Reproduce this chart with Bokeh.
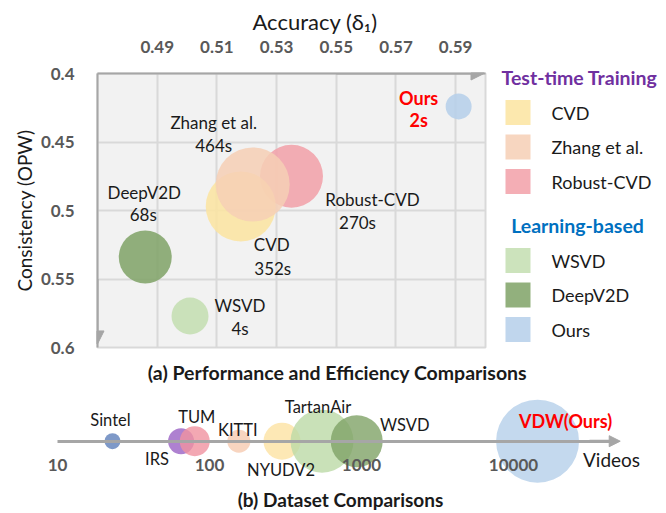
from bokeh.plotting import figure
from bokeh.layouts import column, row
from bokeh.models import (Range1d, FixedTicker, NumeralTickFormatter,
                          Arrow, NormalHead, Label, LogAxis, Title)
from bokeh.core.properties import value
from bokeh.embed import file_html
from bokeh.resources import INLINE

# ---------------- data: (a) performance & efficiency ----------------
methods = ["CVD", "Zhang et al.", "Robust-CVD", "WSVD", "DeepV2D", "Ours"]
groups = ["Test-time Training", "Test-time Training", "Test-time Training",
          "Learning-based", "Learning-based", "Learning-based"]
runtimes = ["352s", "464s", "270s", "4s", "68s", "2s"]
accuracy = [0.518, 0.522, 0.535, 0.501, 0.486, 0.591]
consistency = [0.497, 0.481, 0.475, 0.577, 0.534, 0.424]
bubble_diam = [70, 74, 63, 37, 53, 26]
method_colors = ["#FCE4A0", "#F6CFB5", "#F2A0A8", "#C3DEB0", "#7FA266", "#B5CFEA"]
group_colors = {"Test-time Training": "#7030A0", "Learning-based": "#0070C0"}

acc_ticks = [0.49, 0.51, 0.53, 0.55, 0.57, 0.59]
opw_ticks = [0.4, 0.45, 0.5, 0.55, 0.6]

# ---------------- data: (b) datasets ----------------
datasets = ["Sintel", "IRS", "TUM", "KITTI", "NYUDV2", "TartanAir", "WSVD", "VDW(Ours)"]
videos = [23, 65, 80, 156, 300, 550, 930, 14400]
ds_diam = [16, 26, 30, 23, 37, 63, 52, 83]
ds_colors = ["#5E80BA", "#9A62C4", "#F092A0", "#F6CBB0", "#FCE2A2", "#BCDAA6", "#7FA266", "#B5CFEA"]
video_ticks = [10, 100, 1000, 10000]

FONT = "Lato"
GRAY = "#A6A6A6"
TICK_GRAY = "#595959"
INK = "#1A1A1A"

TOP_H = 357
FR_TOP, FR_BOT = 73, 10

# ---------------- main scatter ----------------
p = figure(width=495, height=TOP_H, x_range=Range1d(0.47, 0.60), y_range=Range1d(0.6, 0.4),
           x_axis_location="above", toolbar_location=None, output_backend="svg",
           min_border_left=97, min_border_right=10, min_border_top=FR_TOP,
           min_border_bottom=FR_BOT)
p.background_fill_color = "#F2F2F2"
p.border_fill_color = "white"
p.outline_line_color = "#D9D9D9"
p.outline_line_width = 2

for ax, ticks, fmt in ((p.xaxis, acc_ticks, "0.00"), (p.yaxis, opw_ticks, "0.[00]")):
    ax.ticker = FixedTicker(ticks=ticks)
    ax.formatter = NumeralTickFormatter(format=fmt)
    ax.major_tick_line_color = None
    ax.minor_tick_line_color = None
    ax.axis_line_color = GRAY
    ax.axis_line_width = 2
    ax.major_label_text_font = FONT
    ax.major_label_text_font_style = "bold"
    ax.major_label_text_font_size = "17px"
    ax.major_label_text_color = TICK_GRAY
    ax.axis_label_text_font = FONT
    ax.axis_label_text_font_style = "normal"
    ax.axis_label_text_font_size = "19px"
    ax.axis_label_text_color = INK

p.xaxis.major_label_standoff = 15
p.yaxis.axis_label = "Consistency (OPW)"
p.yaxis.major_label_standoff = 17
p.yaxis.axis_label_standoff = 2

p.add_layout(Title(text="Accuracy (δ₁)", align="left", offset=155, standoff=5,
                   text_font=FONT, text_font_size="22px", text_font_style="normal",
                   text_color=INK), "above")

p.xgrid.ticker = FixedTicker(ticks=acc_ticks)
p.ygrid.ticker = FixedTicker(ticks=opw_ticks)
p.grid.grid_line_color = "#D9D9D9"
p.grid.grid_line_width = 2

draw_order = [2, 0, 1, 3, 4, 5]
for i in draw_order:
    p.scatter(x=[accuracy[i]], y=[consistency[i]], size=bubble_diam[i], color=method_colors[i],
              alpha=0.85, line_color=None)

# label offsets (px) relative to bubble centres: (name dx, name dy, time dx, time dy)
label_off = {
    "CVD": (31, 38, 32, 62),
    "Zhang et al.": (-39, -62, -39, -39),
    "Robust-CVD": (81, 23, 66, 46),
    "WSVD": (50, -10, 50, 13),
    "DeepV2D": (-1, -65, -2, -43),
    "Ours": (-40, -8, -40, 14),
}
for i, m in enumerate(methods):
    nx, ny, tx, ty = label_off[m]
    ours = m == "Ours"
    col = "#FF0000" if ours else INK
    style = "bold" if ours else "normal"
    size = "18px" if ours else "17px"
    p.text(x=[accuracy[i]], y=[consistency[i]], text=[m], x_offset=nx, y_offset=ny,
           text_font=value(FONT), text_font_size=size, text_font_style=style,
           text_color=col, text_align="center", text_baseline="middle")
    p.text(x=[accuracy[i]], y=[consistency[i]], text=[runtimes[i]], x_offset=tx, y_offset=ty,
           text_font=value(FONT), text_font_size=size, text_font_style=style,
           text_color=col, text_align="center", text_baseline="middle")

p.add_layout(Arrow(end=NormalHead(size=13, fill_color=GRAY, line_color=GRAY),
                   x_start=0.55, y_start=0.4, x_end=0.5995, y_end=0.4,
                   line_color=GRAY, line_width=2))
p.add_layout(Arrow(end=NormalHead(size=13, fill_color=GRAY, line_color=GRAY),
                   x_start=0.47, y_start=0.55, x_end=0.47, y_end=0.5974,
                   line_color=GRAY, line_width=2))

# ---------------- legend panel ----------------
LEG_W = 171
pl = figure(width=LEG_W, height=TOP_H, x_range=Range1d(0, LEG_W),
            y_range=Range1d(TOP_H, 0), toolbar_location=None, output_backend="svg",
            min_border=0, x_axis_type=None, y_axis_type=None)
pl.frame_align = False
pl.grid.visible = False
pl.outline_line_color = None
pl.background_fill_color = "white"
pl.border_fill_color = "white"

title_y = {"Test-time Training": 77, "Learning-based": 225}
title_x = {"Test-time Training": 84, "Learning-based": 82}
pitch = 34.5
for g in ["Test-time Training", "Learning-based"]:
    pl.text(x=[title_x[g]], y=[title_y[g]], text=[g], text_font=value(FONT),
            text_font_size="19.5px", text_font_style="bold",
            text_color=group_colors[g], text_align="center", text_baseline="middle")
    idx = [i for i, gg in enumerate(groups) if gg == g]
    for k, i in enumerate(idx):
        yy = title_y[g] + 35 + k * pitch
        pl.scatter(x=[22.5], y=[yy], marker="square", size=25, color=method_colors[i],
                   alpha=0.85, line_color=None)
        pl.text(x=[56], y=[yy], text=[methods[i]], text_font=value(FONT), text_font_size="18px",
                text_color=INK, text_align="left", text_baseline="middle")

# ---------------- dataset comparison ----------------
BOT_H = 513 - TOP_H
AXIS_Y = 440.7 - TOP_H     # px from the top of this panel
decade = 152.0
x0 = 57.0                  # px position of the "10" tick
pb = figure(width=666, height=BOT_H, x_axis_type="log",
            x_range=Range1d(10 ** (1 - x0 / decade), 10 ** (1 + (666 - x0) / decade)),
            y_range=Range1d(-(BOT_H - AXIS_Y), AXIS_Y), toolbar_location=None,
            output_backend="svg", min_border=0, x_axis_location=None, y_axis_location=None)
pb.frame_align = False
pb.grid.visible = False
pb.outline_line_color = None
pb.background_fill_color = "white"
pb.border_fill_color = "white"

lax = LogAxis(fixed_location=0, ticker=FixedTicker(ticks=video_ticks),
              formatter=NumeralTickFormatter(format="0"),
              bounds=(10, 10 ** 4.68))
lax.axis_line_color = GRAY
lax.axis_line_width = 3
lax.major_tick_line_color = None
lax.minor_tick_line_color = None
lax.major_label_standoff = 12
lax.major_label_text_font = FONT
lax.major_label_text_font_style = "bold"
lax.major_label_text_font_size = "17px"
lax.major_label_text_color = TICK_GRAY
pb.add_layout(lax, "below")
pb.add_layout(Arrow(end=NormalHead(size=11, fill_color=GRAY, line_color=GRAY),
                    x_start=10 ** 4.5, y_start=0, x_end=10 ** 4.702, y_end=0,
                    line_color=GRAY, line_width=3))

for i in range(len(datasets)):
    pb.scatter(x=[videos[i]], y=[0], size=ds_diam[i], color=ds_colors[i], alpha=0.8,
               line_color=None)

ds_off = {"Sintel": (-2, -21), "IRS": (-24, 18), "TUM": (2, -24), "KITTI": (-1, -11),
          "NYUDV2": (-1, 29), "TartanAir": (-4, -34), "WSVD": (48, -16), "VDW(Ours)": (28, -20)}
for i, d in enumerate(datasets):
    dx, dy = ds_off[d]
    ours = d.startswith("VDW")
    pb.text(x=[videos[i]], y=[0], text=[d], x_offset=dx, y_offset=dy, text_font=value(FONT),
            text_font_size="18px" if ours else "16.5px",
            text_font_style="bold" if ours else "normal",
            text_color="#FF0000" if ours else INK, text_align="center",
            text_baseline="middle")

pb.add_layout(Label(x=611, y=BOT_H - (459 - TOP_H), x_units="screen", y_units="screen",
                    text="Videos", text_font=FONT, text_font_size="19px", text_color=INK,
                    text_align="center", text_baseline="middle"))
pb.add_layout(Label(x=337, y=BOT_H - (372 - TOP_H), x_units="screen", y_units="screen",
                    text="(a) Performance and Efficiency Comparisons",
                    text_font=FONT, text_font_size="19.5px", text_font_style="bold",
                    text_color=INK, text_align="center", text_baseline="middle"))
pb.add_layout(Label(x=340, y=BOT_H - (499 - TOP_H), x_units="screen", y_units="screen",
                    text="(b) Dataset Comparisons",
                    text_font=FONT, text_font_size="19px", text_font_style="bold",
                    text_color=INK, text_align="center", text_baseline="middle"))

layout = column(row(p, pl), pb)
open("out.html", "w").write(file_html(layout, INLINE))
